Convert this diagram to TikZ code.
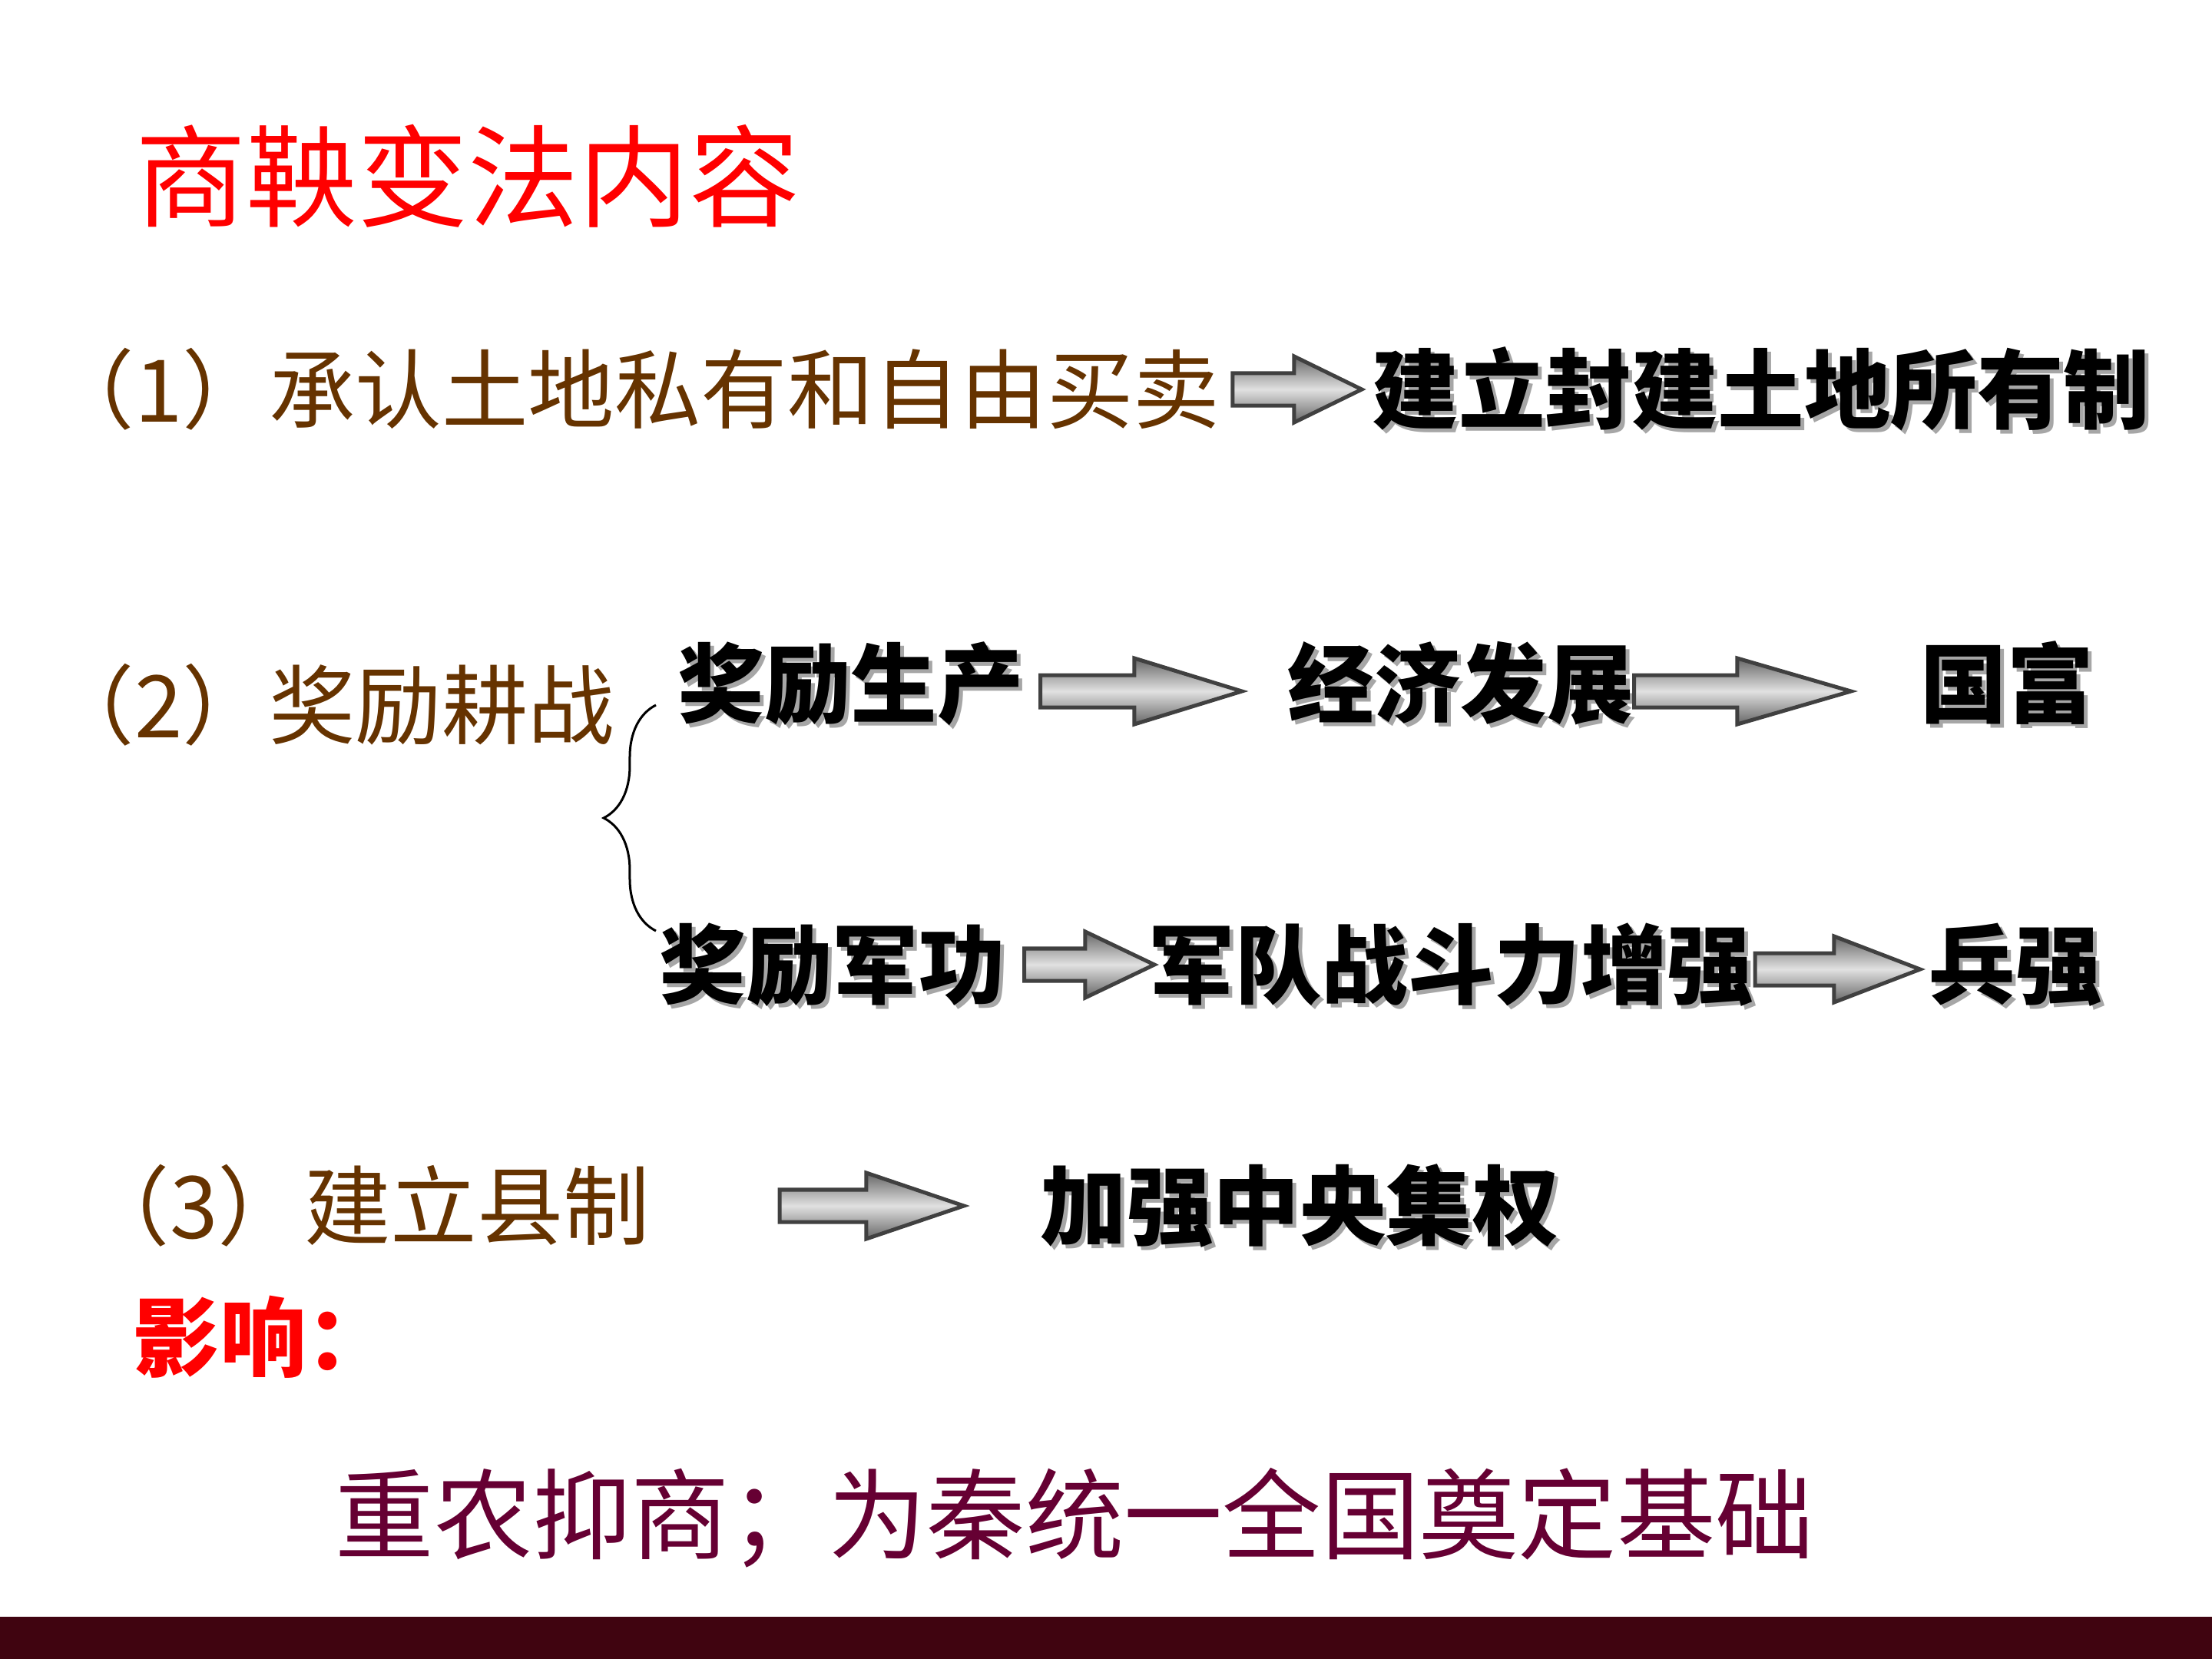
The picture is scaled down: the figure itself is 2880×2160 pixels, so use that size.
\documentclass[tikz,border=0pt]{standalone}
\usepackage{fontspec}
\setmainfont{Noto Sans CJK SC}
\usetikzlibrary{calc, decorations.pathreplacing}

\definecolor{titlered}{RGB}{255,0,0}
\definecolor{itembrown}{RGB}{102,51,0}
\definecolor{summarymaroon}{RGB}{102,0,51}
\definecolor{barmaroon}{RGB}{64,4,16}

\newcommand{\shadowed}[1]{\makebox[0pt][l]{\hspace{0.05cm}\raisebox{-0.05cm}{\textcolor{black!35}{#1}}}#1}

\tikzstyle{titletext} = [
    anchor=west,
    inner sep=0pt,
    text=titlered,
    font=\fontsize{41}{49}\selectfont,
    text height=36.1pt,
    text depth=4.9pt
]
\tikzstyle{itemtext} = [
    anchor=west,
    inner sep=0pt,
    text=itembrown,
    font=\fontsize{32}{38}\selectfont,
    text height=28.2pt,
    text depth=3.8pt
]
\tikzstyle{resulttext} = [
    itemtext,
    text=black,
    font=\fontsize{32}{38}\selectfont\bfseries
]
\tikzstyle{effecttext} = [
    itemtext,
    text=titlered,
    font=\fontsize{32}{38}\selectfont\bfseries
]
\tikzstyle{summarytext} = [
    anchor=west,
    inner sep=0pt,
    text=summarymaroon,
    font=\fontsize{36.5}{44}\selectfont,
    text height=32.1pt,
    text depth=4.4pt
]
\tikzstyle{blockarr} = [
    draw=black!75,
    line width=0.05cm,
    top color=black!60,
    bottom color=black!60,
    middle color=black!12
]
\tikzstyle{bracket} = [
    line width=0.03cm,
    decorate,
    decoration={brace, amplitude=0.68cm, aspect=0.5}
]

\newcommand{\blockarrow}[3]{%
  \path[blockarr] let \p1=#1, \p2=#2 in
    (\x1,{\y1+0.21cm}) -- ({\x2-#3},{\y1+0.21cm}) -- ({\x2-#3},{\y1+0.43cm})
    -- (\x2,\y1) -- ({\x2-#3},{\y1-0.43cm}) -- ({\x2-#3},{\y1-0.21cm})
    -- (\x1,{\y1-0.21cm}) -- cycle;
}

\begin{document}
\begin{tikzpicture}[x=0.01cm, y=-0.01cm]

\fill[white] (0,0) rectangle (2880,2160);
\useasboundingbox (0,0) rectangle (2880,2160);

\node (title) [titletext] at (176,230) {商鞅变法内容};

\node (land) [itemtext] at (62,507) {（1）承认土地私有和自由买卖};
\node (landres) [resulttext] at (1786,507) {\shadowed{建立封建土地所有制}};

\node (reward) [itemtext] at (62,918) {（2）奖励耕战};
\node (farm) [resulttext] at (882,890) {\shadowed{奖励生产}};
\node (econ) [resulttext] at (1676,890) {\shadowed{经济发展}};
\node (rich) [resulttext] at (2500,890) {\shadowed{国富}};
\node (merit) [resulttext] at (858,1256) {\shadowed{奖励军功}};
\node (army) [resulttext] at (1495,1256) {\shadowed{军队战斗力增强}};
\node (strong) [resulttext] at (2511,1256) {\shadowed{兵强}};

\node (county) [itemtext] at (108,1570) {（3）建立县制};
\node (central) [resulttext] at (1354,1570) {\shadowed{加强中央集权}};

\node (effect) [effecttext] at (173,1741) {影响：};
\node (summary) [summarytext] at (436,1972) {重农抑商；为秦统一全国奠定基础};

\coordinate (bracebot) at (854,1212);
\coordinate (bracetop) at (854,918);
\draw [bracket] (bracebot) -- (bracetop);

\blockarrow{([xshift=0.16cm]land.east)}{([xshift=-0.13cm]landres.west)}{0.88cm}
\blockarrow{([xshift=0.21cm,yshift=-0.1cm]farm.east)}{([xshift=-0.59cm]econ.west)}{1.4cm}
\blockarrow{([yshift=-0.1cm]econ.east)}{([xshift=-0.9cm]rich.west)}{1.48cm}
\blockarrow{([xshift=0.24cm]merit.east)}{([xshift=0.08cm]army.west)}{0.9cm}
\blockarrow{([xshift=0.01cm,yshift=-0.06cm]army.east)}{([xshift=-0.11cm]strong.west)}{1.12cm}
\blockarrow{([xshift=1.68cm]county.east)}{([xshift=-0.99cm]central.west)}{1.27cm}

\fill[barmaroon] (0,2105) rectangle (2880,2160);

\end{tikzpicture}
\end{document}
